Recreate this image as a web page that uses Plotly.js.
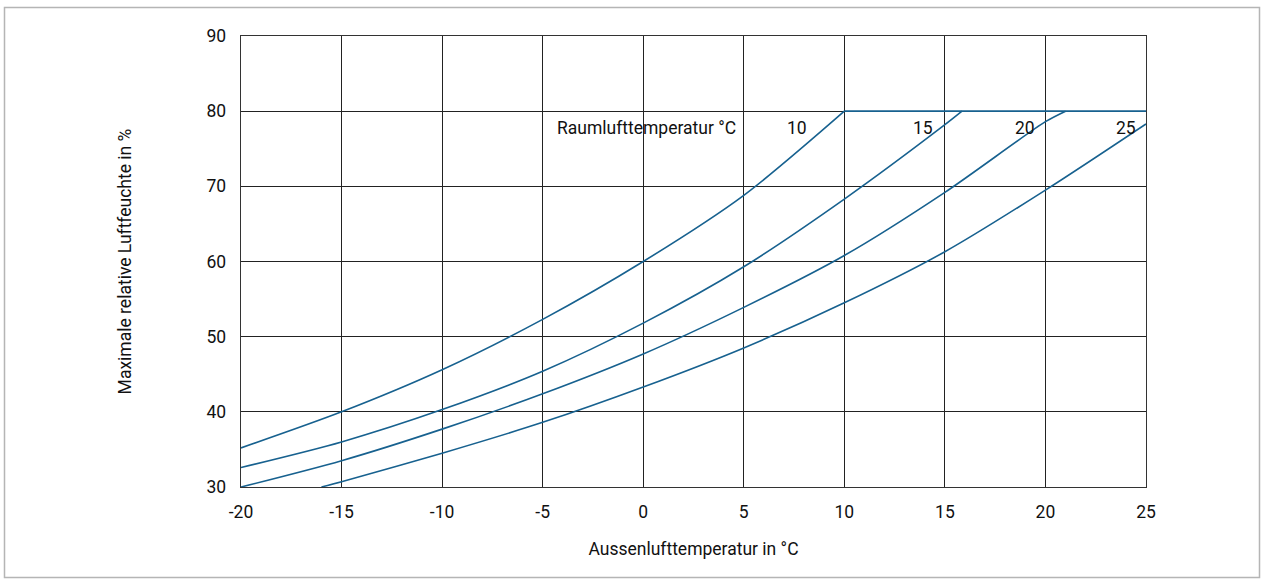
<!DOCTYPE html>
<html>
<head>
<meta charset="utf-8">
<script src="https://cdn.plot.ly/plotly-3.0.1.min.js"></script>
<style>html,body{margin:0;padding:0;background:#fff;}#chart{width:1264px;height:583px;}</style>
</head>
<body>
<div id="chart"></div>
<script>
// Raumlufttemperatur curves: outdoor temperature (°C) vs. max. relative humidity (%)
const x10 = [-20, -15, -10, -5, 0, 5, 10];
const y10 = [35.2, 40.0, 45.6, 52.3, 60.0, 68.8, 80.0];
const x15 = [-20, -15, -10, -5, 0, 5, 10, 15, 15.85];
const y15 = [32.6, 36.0, 40.3, 45.4, 51.8, 59.3, 68.3, 78.2, 80.0];
const x20 = [-20, -15, -10, -5, 0, 5, 10, 15, 20, 21];
const y20 = [30.0, 33.5, 37.7, 42.4, 47.7, 53.9, 60.8, 69.2, 78.6, 80.0];
const x25 = [-16, -15, -10, -5, 0, 5, 10, 15, 20, 25];
const y25 = [30.0, 30.7, 34.5, 38.6, 43.3, 48.5, 54.5, 61.3, 69.5, 78.3];
const capX = [10, 25];
const capY = [80, 80];
const curveLabels = ['10', '15', '20', '25'];
const curveLabelX = [7.65, 13.9, 19.0, 24.0];
const legendTitle = 'Raumlufttemperatur °C';
const xTicks = [-20, -15, -10, -5, 0, 5, 10, 15, 20, 25];
const yTicks = [30, 40, 50, 60, 70, 80, 90];

const FONT = 'Roboto, "Noto Sans", sans-serif';
const FS = 17.5;
const BLUE = '#17618f';
const line = {color: BLUE, width: 1.6, shape: 'spline', smoothing: 0.8};

const traces = [
  {x: x10, y: y10, mode: 'lines', line: line, hoverinfo: 'skip'},
  {x: x15, y: y15, mode: 'lines', line: line, hoverinfo: 'skip'},
  {x: x20, y: y20, mode: 'lines', line: line, hoverinfo: 'skip'},
  {x: x25, y: y25, mode: 'lines', line: line, hoverinfo: 'skip'},
  {x: capX, y: capY, mode: 'lines', line: {color: BLUE, width: 1.6}, hoverinfo: 'skip'}
];

const annotations = curveLabels.map((t, i) => ({
  x: curveLabelX[i], y: 77.7, xref: 'x', yref: 'y', text: t, showarrow: false,
  xanchor: 'center', yanchor: 'middle', font: {family: FONT, size: FS, color: '#111'}
}));
annotations.push({
  x: 0.14, y: 77.7, xref: 'x', yref: 'y', text: legendTitle, showarrow: false,
  xanchor: 'center', yanchor: 'middle', font: {family: FONT, size: FS, color: '#111'}
});

const L = 241, R = 1146, T = 36, B = 487;
const pw = R - L, ph = B - T;
const layout = {
  width: 1264, height: 583,
  margin: {l: L, r: 1264 - R, t: T, b: 583 - B, pad: 0},
  paper_bgcolor: '#fff', plot_bgcolor: '#fff',
  showlegend: false,
  font: {family: FONT, size: FS, color: '#111'},
  xaxis: {
    range: [-20, 25], tickvals: xTicks, ticktext: xTicks.map(String),
    showgrid: true, gridcolor: '#222', gridwidth: 1,
    showline: true, linecolor: '#333', linewidth: 1.3, mirror: true,
    zeroline: false, ticks: '', ticklen: 0, ticklabelstandoff: 9,
    tickfont: {family: FONT, size: FS, color: '#111'},
    title: {text: 'Aussenlufttemperatur in °C', font: {family: FONT, size: FS, color: '#111'}, standoff: 21}
  },
  yaxis: {
    range: [30, 90], tickvals: yTicks, ticktext: yTicks.map(String),
    showgrid: true, gridcolor: '#222', gridwidth: 1,
    showline: true, linecolor: '#333', linewidth: 1.3, mirror: true,
    zeroline: false, ticks: '', ticklen: 0, ticklabelstandoff: 10,
    tickfont: {family: FONT, size: FS, color: '#111'},
    title: {text: 'Maximale relative Luftfeuchte in %', font: {family: FONT, size: FS, color: '#111'}, standoff: 70}
  },
  annotations: annotations,
  shapes: [{
    type: 'rect', xref: 'paper', yref: 'paper',
    x0: (4.5 - L) / pw, x1: (1259.5 - L) / pw,
    y0: (B - 577.5) / ph, y1: (B - 7.5) / ph,
    line: {color: '#b5b5b5', width: 1.5}, fillcolor: 'rgba(0,0,0,0)', layer: 'below'
  }]
};

Plotly.newPlot('chart', traces, layout, {staticPlot: true, displayModeBar: false});
</script>
</body>
</html>
